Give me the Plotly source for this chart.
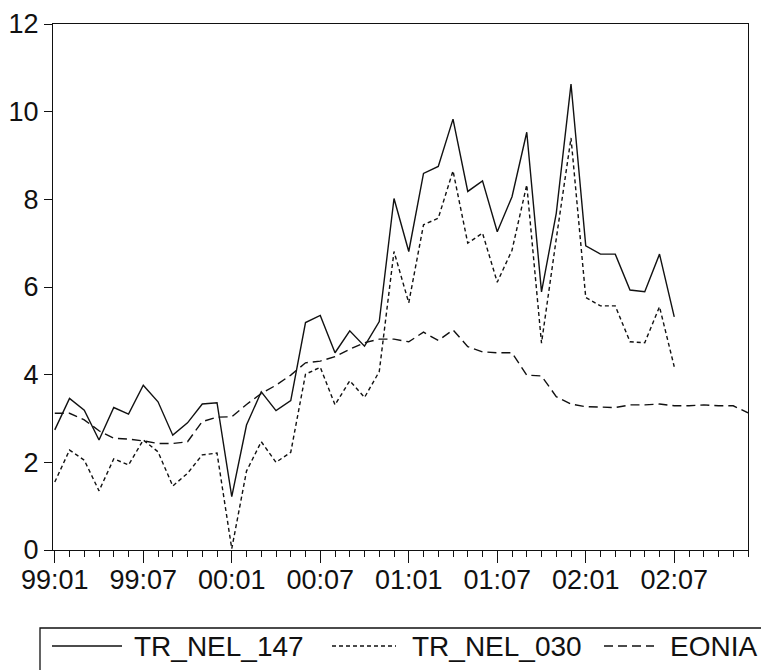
import plotly.graph_objects as go

periods = ["99:01", "99:02", "99:03", "99:04", "99:05", "99:06", "99:07", "99:08", "99:09", "99:10", "99:11", "99:12",
           "00:01", "00:02", "00:03", "00:04", "00:05", "00:06", "00:07", "00:08", "00:09", "00:10", "00:11", "00:12",
           "01:01", "01:02", "01:03", "01:04", "01:05", "01:06", "01:07", "01:08", "01:09", "01:10", "01:11", "01:12",
           "02:01", "02:02", "02:03", "02:04", "02:05", "02:06", "02:07", "02:08", "02:09", "02:10", "02:11", "02:12"]

tick_labels = ["99:01", "99:07", "00:01", "00:07", "01:01", "01:07", "02:01", "02:07"]

tr_nel_147 = [2.74, 3.46, 3.19, 2.51, 3.25, 3.10, 3.76, 3.38, 2.62, 2.90, 3.33, 3.36,
              1.22, 2.85, 3.61, 3.18, 3.41, 5.19, 5.35, 4.50, 5.00, 4.65, 5.21, 8.02,
              6.81, 8.59, 8.75, 9.83, 8.18, 8.42, 7.26, 8.06, 9.53, 5.89, 7.68, 10.63,
              6.94, 6.75, 6.75, 5.93, 5.89, 6.75, 5.32]

tr_nel_030 = [1.55, 2.28, 2.05, 1.35, 2.08, 1.94, 2.51, 2.24, 1.46, 1.75, 2.17, 2.21,
              0.03, 1.80, 2.47, 2.00, 2.23, 4.01, 4.17, 3.31, 3.86, 3.48, 4.07, 6.81,
              5.64, 7.42, 7.57, 8.65, 7.00, 7.23, 6.11, 6.84, 8.33, 4.72, 7.10, 9.40,
              5.76, 5.57, 5.57, 4.75, 4.73, 5.55, 4.18]

eonia = [3.12, 3.12, 2.97, 2.72, 2.55, 2.53, 2.49, 2.43, 2.43, 2.47, 2.93, 3.03,
         3.04, 3.32, 3.57, 3.76, 3.99, 4.27, 4.31, 4.41, 4.58, 4.73, 4.81, 4.81,
         4.75, 4.97, 4.78, 5.02, 4.64, 4.52, 4.50, 4.50, 3.99, 3.97, 3.50, 3.33,
         3.27, 3.26, 3.25, 3.31, 3.31, 3.33, 3.29, 3.29, 3.31, 3.29, 3.29, 3.13]

y_ticks = [0, 2, 4, 6, 8, 10, 12]

series_names = ["TR_NEL_147", "TR_NEL_030", "EONIA"]
series_values = [tr_nel_147, tr_nel_030, eonia]
series_dash = ["solid", "4px,3px", "9px,5px"]

W, H = 761, 670
ML, MR, MT, MB = 53, 13, 24, 120
PW, PH = W - ML - MR, H - MT - MB

def px_x(px):
    return (px - ML) / PW

def px_y(py):
    return (H - MB - py) / PH

pos = list(range(len(periods)))
ink = "#111111"
font_family = "Liberation Sans, Arial, sans-serif"

fig = go.Figure()
for name, vals, dash in zip(series_names, series_values, series_dash):
    fig.add_trace(go.Scatter(x=pos[:len(vals)], y=vals, name=name, mode="lines",
                             line=dict(color=ink, width=1.4, dash=dash), showlegend=False))

# legend drawn as box + samples + labels (box runs off the right/bottom edge as in the reference)
leg_y = 646
leg_items = [(52, 122, 132), (332, 396, 410), (604, 654, 668)]
shapes = [dict(type="rect", xref="paper", yref="paper", x0=px_x(40), x1=px_x(W + 40),
               y0=px_y(628), y1=px_y(H + 40), line=dict(color=ink, width=1.3),
               fillcolor="rgba(0,0,0,0)", layer="above")]
annotations = []
for (lx0, lx1, tx), name, dash in zip(leg_items, series_names, series_dash):
    shapes.append(dict(type="line", xref="paper", yref="paper", x0=px_x(lx0), x1=px_x(lx1),
                       y0=px_y(leg_y), y1=px_y(leg_y), line=dict(color=ink, width=1.3, dash=dash)))
    annotations.append(dict(text=name, xref="paper", yref="paper", x=px_x(tx), y=px_y(leg_y),
                            xanchor="left", yanchor="middle", showarrow=False,
                            font=dict(size=28, family=font_family, color=ink)))

fig.update_layout(
    width=W, height=H,
    margin=dict(l=ML, r=MR, t=MT, b=MB, autoexpand=False),
    paper_bgcolor="white", plot_bgcolor="white",
    font=dict(family=font_family, size=27, color=ink),
    showlegend=False,
    shapes=shapes, annotations=annotations,
)

fig.update_xaxes(
    range=[-0.12, len(periods) - 1], showgrid=False, zeroline=False, automargin=False,
    showline=True, linecolor=ink, linewidth=1.3, mirror=True,
    tickmode="array", tickvals=[periods.index(t) for t in tick_labels], ticktext=tick_labels,
    ticks="outside", ticklen=12, tickwidth=1.2, tickcolor=ink, ticklabelstandoff=-7,
    minor=dict(ticks="outside", ticklen=6, tickwidth=1.2, tickcolor=ink, dtick=1, tick0=0, showgrid=False),
    tickfont=dict(size=27, family=font_family, color=ink),
)
fig.update_yaxes(
    range=[0, 12], showgrid=False, zeroline=False, automargin=False,
    showline=True, linecolor=ink, linewidth=1.3, mirror=True,
    tickmode="array", tickvals=y_ticks,
    ticks="outside", ticklen=8, tickwidth=1.2, tickcolor=ink,
    tickfont=dict(size=27, family=font_family, color=ink),
)

fig.write_html("out.html", config={"displayModeBar": False},
               post_script="document.body.style.margin='0px';document.body.style.overflow='hidden';")
